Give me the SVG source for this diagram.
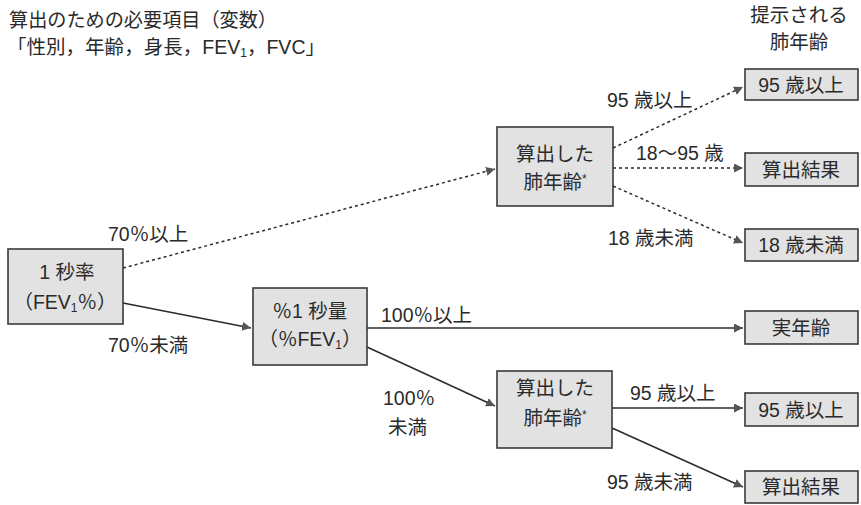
<svg xmlns="http://www.w3.org/2000/svg" width="861" height="505" viewBox="0 0 861 505">
<style>
text{font-family:"Liberation Sans","Noto Sans CJK JP",sans-serif;fill:#2a2a2a;font-size:19.5px}
.c{text-anchor:middle}
.box{fill:#e2e2e2;stroke:#3a3a3a;stroke-width:1.6}
.ln{fill:none;stroke:#2a2a2a;stroke-width:1.5}
.d{stroke-dasharray:3,3}
.sub{font-size:12px}
</style>
<defs>
<marker id="ah" viewBox="0 0 10 10" refX="10" refY="5" markerWidth="9" markerHeight="9" markerUnits="userSpaceOnUse" orient="auto">
<path d="M0,0 L10,5 L0,10 Z" fill="#555"/>
</marker>
</defs>
<rect width="861" height="505" fill="#fff"/>
<g id="title">
<text x="9" y="27" textLength="268" lengthAdjust="spacingAndGlyphs">算出のための必要項目（変数）</text>
<text x="7" y="54" textLength="318" lengthAdjust="spacing">「性別，年齢，身長，FEV<tspan class="sub" dy="3">1</tspan><tspan dy="-3">，FVC」</tspan></text>
<text class="c" x="799" y="22">提示される</text>
<text class="c" x="799" y="49">肺年齢</text>
</g>
<g id="connectors">
<line class="ln d" x1="123" y1="268" x2="495" y2="169" marker-end="url(#ah)"/>
<line class="ln" x1="123" y1="303" x2="251" y2="328" marker-end="url(#ah)"/>
<line class="ln" x1="367" y1="328" x2="743" y2="328" marker-end="url(#ah)"/>
<line class="ln" x1="367" y1="347" x2="495" y2="406" marker-end="url(#ah)"/>
<line class="ln d" x1="613" y1="148" x2="743" y2="87" marker-end="url(#ah)"/>
<line class="ln d" x1="613" y1="168" x2="743" y2="168" marker-end="url(#ah)"/>
<line class="ln d" x1="613" y1="186" x2="743" y2="243" marker-end="url(#ah)"/>
<line class="ln" x1="612" y1="408" x2="743" y2="408" marker-end="url(#ah)"/>
<line class="ln" x1="612" y1="428" x2="743" y2="487" marker-end="url(#ah)"/>
</g>
<g id="labels">
<text x="108" y="241">70％以上</text>
<text x="108" y="352">70％未満</text>
<text x="381" y="322">100％以上</text>
<text x="383" y="405">100％</text>
<text x="388" y="434">未満</text>
<text x="607" y="107">95 歳以上</text>
<text x="636" y="160">18〜95 歳</text>
<text x="608" y="245">18 歳未満</text>
<text x="630" y="400">95 歳以上</text>
<text x="607" y="489">95 歳未満</text>
</g>
<g id="n1">
<rect class="box" x="8" y="249" width="115" height="75"/>
<text class="c" x="67" y="279">1 秒率</text>
<text class="c" x="65" y="309">（FEV<tspan class="sub" dy="3">1</tspan><tspan dy="-3">％）</tspan></text>
</g>
<g id="n2">
<rect class="box" x="253" y="288" width="114" height="77"/>
<text class="c" x="310" y="318">％1 秒量</text>
<text class="c" x="310" y="346">（％FEV<tspan class="sub" dy="3">1</tspan><tspan dy="-3">）</tspan></text>
</g>
<g id="n3">
<rect class="box" x="497" y="127" width="116" height="79"/>
<text class="c" x="555" y="161">算出した</text>
<text class="c" x="555" y="189">肺年齢<tspan font-size="12" dy="-6">*</tspan></text>
</g>
<g id="n4">
<rect class="box" x="497" y="371" width="115" height="77"/>
<text class="c" x="555" y="395">算出した</text>
<text class="c" x="555" y="425">肺年齢<tspan font-size="12" dy="-6">*</tspan></text>
</g>
<g id="r1">
<rect class="box" x="745" y="69" width="113" height="31"/>
<text class="c" x="801" y="92">95 歳以上</text>
</g>
<g id="r2">
<rect class="box" x="745" y="153" width="113" height="33"/>
<text class="c" x="801" y="177">算出結果</text>
</g>
<g id="r3">
<rect class="box" x="745" y="229" width="113" height="32"/>
<text class="c" x="801" y="252">18 歳未満</text>
</g>
<g id="r4">
<rect class="box" x="745" y="311" width="113" height="33"/>
<text class="c" x="801" y="335">実年齢</text>
</g>
<g id="r5">
<rect class="box" x="745" y="393" width="113" height="33"/>
<text class="c" x="801" y="417">95 歳以上</text>
</g>
<g id="r6">
<rect class="box" x="745" y="471" width="113" height="32"/>
<text class="c" x="801" y="494">算出結果</text>
</g>
</svg>
